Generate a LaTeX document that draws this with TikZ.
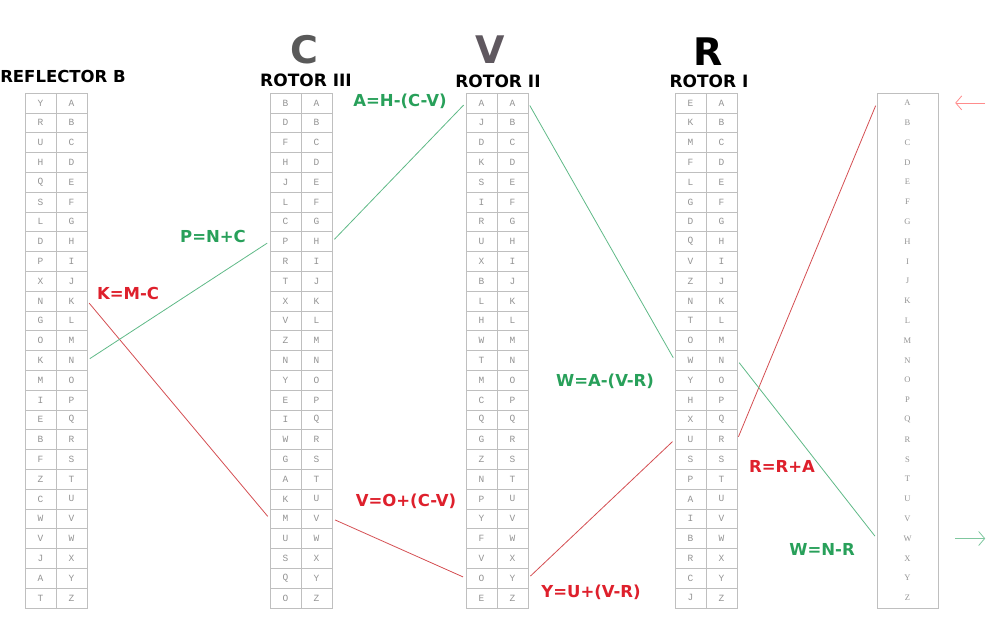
\documentclass[tikz,border=0pt]{standalone}
\usepackage{fontspec}
\setmainfont{DejaVu Sans}
\newfontfamily\cellfont{Liberation Mono}
\newfontfamily\keyfont{Liberation Serif}
\usepackage{xcolor}
\usetikzlibrary{positioning, arrows.meta}
\definecolor{eqgreen}{RGB}{40,160,90}
\definecolor{eqred}{RGB}{222,32,44}
\definecolor{wiregreen}{RGB}{95,185,135}
\definecolor{wirered}{RGB}{212,78,82}
\definecolor{biggray}{RGB}{95,88,95}
\def\alphabet{A,B,C,D,E,F,G,H,I,J,K,L,M,N,O,P,Q,R,S,T,U,V,W,X,Y,Z}

\begin{document}
\begin{tikzpicture}[x=1pt, y=-1pt,
    cell/.style={draw=gray!50, line width=0.6pt, minimum width=31pt, minimum height=19.8pt, inner sep=0pt, font=\cellfont\fontsize{9.5}{9.5}\selectfont, text=gray!85},
    key/.style={minimum width=61pt, minimum height=19.8pt, inner sep=0pt, font=\keyfont\fontsize{8.5}{8.5}\selectfont, text=gray!85},
    title/.style={font=\bfseries\fontsize{17}{17}\selectfont},
    big/.style={font=\bfseries\fontsize{38}{38}\selectfont},
    eqg/.style={font=\bfseries\fontsize{16.5}{16.5}\selectfont, text=eqgreen},
    eqr/.style={font=\bfseries\fontsize{16.5}{16.5}\selectfont, text=eqred},
    wireg/.style={draw=wiregreen, line width=0.8pt, shorten <=3pt, shorten >=3pt},
    wirer/.style={draw=wirered, line width=0.8pt, shorten <=3pt, shorten >=3pt},
    tip/.style={line width=0.8pt, -{Straight Barb[length=6pt, width=14pt]}}]
    \useasboundingbox (0,0) rectangle (1003,637);

    % rotor tables: left column wiring, right column plain alphabet
    \foreach \tab/\x/\wiring in {refl/40.5/{Y,R,U,H,Q,S,L,D,P,X,N,G,O,K,M,I,E,B,F,Z,C,W,V,J,A,T},
                                 rIII/285.5/{B,D,F,H,J,L,C,P,R,T,X,V,Z,N,Y,E,I,W,G,A,K,M,U,S,Q,O},
                                 rII/481.5/{A,J,D,K,S,I,R,U,X,B,L,H,W,T,M,C,Q,G,Z,N,P,Y,F,V,O,E},
                                 rI/690.5/{E,K,M,F,L,G,D,Q,V,Z,N,T,O,W,Y,H,X,U,S,P,A,I,B,R,C,J}} {
        \foreach \l [count=\i from 0] in \wiring
            \node[cell] (\tab L\i) at (\x, 102.9+19.8*\i) {\l};
        \foreach \l [count=\i from 0] in \alphabet
            \node[cell] (\tab R\i) at (\x+31, 102.9+19.8*\i) {\l};
    }

    % keyboard column
    \node[draw=gray!50, line width=0.6pt, minimum width=61pt, minimum height=514.8pt] (inbox) at (907.5, 350.4) {};
    \foreach \l [count=\i from 0] in \alphabet
        \node[key] (in\i) at (907.5, 102.9+19.8*\i) {\l};

    % titles
    \node[font=\bfseries\fontsize{16.5}{16.5}\selectfont] (treflector) at (63, 76) {REFLECTOR B};
    \node[title] (tIII) at (306, 80) {ROTOR III};
    \node[title] (tII) at (498, 81) {ROTOR II};
    \node[title] (tI) at (709, 81) {ROTOR I};
    \node[big, text=black!65] (posC) at (304, 50) {C};
    \node[big, text=biggray] (posV) at (490, 50) {V};
    \node[big] (posR) at (708, 52) {R};

    % signal path in
    \draw[wirer] (in0.west) -- (rIR17.east);
    \draw[wirer] (rIL17.west) -- (rIIR24.east);
    \draw[wirer] (rIIL24.west) -- (rIIIR21.east);
    \draw[wirer] (rIIIL21.west) -- (reflR10.east);
    % signal path out
    \draw[wireg] (reflR13.east) -- (rIIIL7.west);
    \draw[wireg] (rIIIR7.east) -- (rIIL0.west);
    \draw[wireg] (rIIR0.east) -- (rIL13.west);
    \draw[wireg] (rIR13.east) -- (in22.west);

    % key in / lamp out
    \coordinate[right=17pt of in0.east] (inhead);
    \coordinate[right=30pt of inhead] (intail);
    \draw[tip, draw=red!45] (intail) -- (inhead);
    \coordinate[right=17pt of in22.east] (outtail);
    \coordinate[right=30pt of outtail] (outhead);
    \draw[tip, draw=wiregreen!80] (outtail) -- (outhead);

    % equations
    \node[eqr] (eqK) at (128, 293) {K=M-C};
    \node[eqg] (eqP) at (213, 236) {P=N+C};
    \node[eqg] (eqA) at (400, 101) {A=H-(C-V)};
    \node[eqr] (eqV) at (406, 501) {V=O+(C-V)};
    \node[eqg] (eqW) at (605, 381) {W=A-(V-R)};
    \node[eqr] (eqY) at (591, 592) {Y=U+(V-R)};
    \node[eqr] (eqR) at (782, 466) {R=R+A};
    \node[eqg] (eqWN) at (822, 549) {W=N-R};
\end{tikzpicture}
\end{document}
